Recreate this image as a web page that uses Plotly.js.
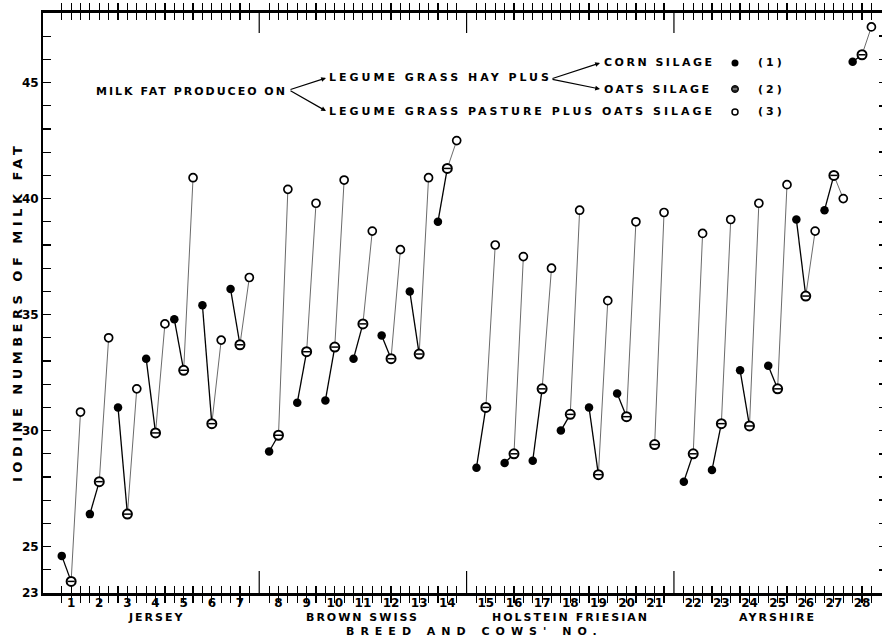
<!DOCTYPE html>
<html>
<head>
<meta charset="utf-8">
<script src="https://cdn.plot.ly/plotly-3.0.1.min.js"></script>
<style>
  html, body { margin: 0; padding: 0; background: #fff; }
  #chart { width: 883px; height: 638px; }
</style>
</head>
<body>
<div id="chart"></div>
<script>
// ---- Data ----
const cows = [1,2,3,4,5,6,7,8,9,10,11,12,13,14,15,16,17,18,19,20,21,22,23,24,25,26,27,28];
const breeds = ['JERSEY', 'BROWN SWISS', 'HOLSTEIN FRIESIAN', 'AYRSHIRE'];
const breedMiddleCow = [4, 11, 18, 25];
// (1) Legume grass hay plus corn silage
const cornSilage = [24.6, 26.4, 31.0, 33.1, 34.8, 35.4, 36.1,
                    29.1, 31.2, 31.3, 33.1, 34.1, 36.0, 39.0,
                    28.4, 28.6, 28.7, 30.0, 31.0, 31.6, null,
                    27.8, 28.3, 32.6, 32.8, 39.1, 39.5, 45.9];
// (2) Legume grass hay plus oats silage
const oatsSilage = [23.5, 27.8, 26.4, 29.9, 32.6, 30.3, 33.7,
                    29.8, 33.4, 33.6, 34.6, 33.1, 33.3, 41.3,
                    31.0, 29.0, 31.8, 30.7, 28.1, 30.6, 29.4,
                    29.0, 30.3, 30.2, 31.8, 35.8, 41.0, 46.2];
// (3) Legume grass pasture plus oats silage
const pastureOats = [30.8, 34.0, 31.8, 34.6, 40.9, 33.9, 36.6,
                     40.4, 39.8, 40.8, 38.6, 37.8, 40.9, 42.5,
                     38.0, 37.5, 37.0, 39.5, 35.6, 39.0, 39.4,
                     38.5, 39.1, 39.8, 40.6, 38.6, 40.0, 47.4];
const yTickLabels = [23, 25, 30, 35, 40, 45];

// ---- Layout helpers ----
const GAP = 0.37;             // extra space between breeds (in cow units)
const OFF = 1 / 3;            // offset of the three feeds around each cow
function grp(c) { return Math.floor((c - 1) / 7); }
function pos(c) { return c + GAP * grp(c); }
const L = 43, T = 13, W = 839, H = 580;
const XR = [0, 29.82], YR = [23, 48];
function px(x) { return (x - L) / W; }          // pixel -> paper x
function py(y) { return (T + H - y) / H; }      // pixel -> paper y
function dx(x) { return XR[0] + (x - L) / W * (XR[1] - XR[0]); } // pixel -> data x
function dy(y) { return YR[1] - (y - T) / H * (YR[1] - YR[0]); } // pixel -> data y

const x1 = cows.map(c => pos(c) - OFF);
const x2 = cows.map(c => pos(c));
const x3 = cows.map(c => pos(c) + OFF);

// connecting segments
const segA = {x: [], y: []}, segB = {x: [], y: []};
cows.forEach((c, i) => {
  if (cornSilage[i] != null && oatsSilage[i] != null) {
    segA.x.push(x1[i], x2[i], null); segA.y.push(cornSilage[i], oatsSilage[i], null);
  }
  if (oatsSilage[i] != null && pastureOats[i] != null) {
    segB.x.push(x2[i], x3[i], null); segB.y.push(oatsSilage[i], pastureOats[i], null);
  }
});

const traces = [
  {x: segB.x, y: segB.y, mode: 'lines', line: {color: '#444', width: 0.8}, hoverinfo: 'skip', showlegend: false},
  {x: segA.x, y: segA.y, mode: 'lines', line: {color: '#000', width: 1.3}, hoverinfo: 'skip', showlegend: false},
  {x: x1, y: cornSilage, mode: 'markers', marker: {symbol: 'circle', size: 8.5, color: '#000'}, showlegend: false},
  {x: x2, y: oatsSilage, mode: 'markers', marker: {symbol: 'circle', size: 9, color: '#fff', line: {color: '#000', width: 2}}, showlegend: false},
  {x: x2, y: oatsSilage, mode: 'markers', marker: {symbol: 'line-ew', size: 5, line: {color: '#000', width: 1.5}}, showlegend: false, hoverinfo: 'skip'},
  {x: x3, y: pastureOats, mode: 'markers', marker: {symbol: 'circle', size: 8, color: '#fff', line: {color: '#000', width: 1.7}}, showlegend: false},
  // legend key symbols
  {x: [dx(735)], y: [dy(63)], mode: 'markers', marker: {symbol: 'circle', size: 7, color: '#000'}, showlegend: false, hoverinfo: 'skip'},
  {x: [dx(735)], y: [dy(89)], mode: 'markers', marker: {symbol: 'circle', size: 7, color: '#222', line: {color: '#000', width: 1}}, showlegend: false, hoverinfo: 'skip'},
  {x: [dx(735)], y: [dy(89)], mode: 'markers', marker: {symbol: 'line-ew', size: 3, line: {color: '#bbb', width: 1}}, showlegend: false, hoverinfo: 'skip'},
  {x: [dx(735)], y: [dy(112)], mode: 'markers', marker: {symbol: 'circle', size: 6, color: '#fff', line: {color: '#000', width: 1.5}}, showlegend: false, hoverinfo: 'skip'},
  // dummy trace for right-side tick axis
  {x: [null], y: [null], yaxis: 'y2', mode: 'markers', showlegend: false, hoverinfo: 'skip'}
];

// ticks
const xTickVals = [], xTickText = [];
cows.forEach((c, i) => {
  xTickVals.push(x1[i], x2[i], x3[i]);
  xTickText.push('', String(c), '');
});
const yTickVals = [], yTickText = [];
for (let v = YR[0]; v <= YR[1]; v++) {
  yTickVals.push(v);
  yTickText.push(yTickLabels.indexOf(v) >= 0 ? String(v) : '');
}

const sp = (t, s) => '<span style="letter-spacing:' + s + 'px">' + t + '</span>';
const F = {family: 'DejaVu Sans', color: '#000', size: 11, weight: 'bold'};

const annotations = [];
// breed names
breeds.forEach((b, i) => {
  annotations.push({xref: 'x', yref: 'paper', x: pos(breedMiddleCow[i]), y: py(617),
    text: sp(b, 2), showarrow: false, font: F, xanchor: 'center', yanchor: 'middle'});
});
// axis titles
annotations.push({xref: 'paper', yref: 'paper', x: px(474), y: py(631),
  text: sp("BREED AND COWS' NO.", 6), showarrow: false, font: F, xanchor: 'center', yanchor: 'middle'});
annotations.push({xref: 'paper', yref: 'paper', x: px(17), y: py(312), textangle: -90,
  text: sp('IODINE NUMBERS OF MILK FAT', 4.5), showarrow: false,
  font: {family: 'DejaVu Sans', color: '#000', size: 13, weight: 'bold'}, xanchor: 'center', yanchor: 'middle'});
// legend texts: [text, left px, centre y px, letter spacing]
const legendTexts = [
  ['MILK FAT PRODUCEO ON', 94, 91, 2],
  ['LEGUME GRASS HAY PLUS', 327, 78, 3],
  ['LEGUME GRASS PASTURE PLUS OATS SILAGE', 327, 112, 3],
  ['CORN SILAGE', 602, 63, 2.5],
  ['OATS SILAGE', 602, 89, 2.5],
  ['(1)', 756, 63, 3],
  ['(2)', 756, 89, 3],
  ['(3)', 756, 112, 3]
];
legendTexts.forEach(t => {
  annotations.push({xref: 'paper', yref: 'paper', x: px(t[1]), y: py(t[2]),
    text: sp(t[0], t[3]), showarrow: false, font: F, xanchor: 'left', yanchor: 'middle'});
});
// bracket arrows
const arrows = [[289, 90, 326, 78], [289, 90, 326, 111], [551, 79, 600, 63], [551, 79, 600, 89]];
arrows.forEach(a => {
  annotations.push({xref: 'paper', yref: 'paper', x: px(a[2]), y: py(a[3]),
    ax: a[0] - a[2], ay: a[1] - a[3], text: '', showarrow: true,
    arrowhead: 2, arrowsize: 0.8, arrowwidth: 1.2, arrowcolor: '#000', standoff: 0, startstandoff: 0});
});

// breed separators
const shapes = [];
[7, 14, 21].forEach(c => {
  const xm = ((pos(c) + OFF) + (pos(c + 1) - OFF)) / 2;
  shapes.push({type: 'line', xref: 'x', yref: 'paper', x0: xm, x1: xm, y0: 0, y1: 22 / H, line: {color: '#000', width: 1.2}});
  shapes.push({type: 'line', xref: 'x', yref: 'paper', x0: xm, x1: xm, y0: 1, y1: 1 - 20 / H, line: {color: '#000', width: 1.2}});
});

const layout = {
  width: 883, height: 638,
  margin: {l: L, r: 883 - L - W, t: T, b: 638 - T - H, pad: 0},
  paper_bgcolor: '#fff', plot_bgcolor: '#fff',
  font: {family: 'DejaVu Sans', color: '#000'},
  showlegend: false,
  xaxis: {range: XR, showgrid: false, zeroline: false, showline: true, linewidth: 3, linecolor: '#000',
    mirror: 'allticks', ticks: 'inside', ticklen: 7, tickwidth: 1.2, tickcolor: '#000', ticklabelstandoff: -3,
    tickvals: xTickVals, ticktext: xTickText, tickfont: {family: 'DejaVu Sans', size: 12, weight: 'bold'}, fixedrange: true},
  yaxis: {range: YR, showgrid: false, zeroline: false, showline: true, linewidth: 2, linecolor: '#000',
    ticks: 'inside', ticklen: 8, tickwidth: 1.2, tickcolor: '#000',
    tickvals: yTickVals, ticktext: yTickText, tickfont: {family: 'DejaVu Sans', size: 12, weight: 'bold'}, fixedrange: true},
  yaxis2: {range: YR, overlaying: 'y', side: 'right', showgrid: false, zeroline: false, showline: false,
    ticks: 'inside', ticklen: 3, tickwidth: 1.5, tickcolor: '#000', tickvals: yTickVals.slice(1, -1), showticklabels: false, fixedrange: true},
  annotations: annotations,
  shapes: shapes
};

Plotly.newPlot('chart', traces, layout, {staticPlot: true, displayModeBar: false});
</script>
</body>
</html>
